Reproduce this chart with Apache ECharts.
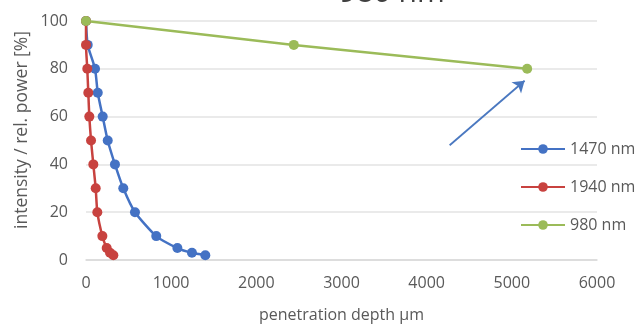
<!DOCTYPE html>
<html><head><meta charset="utf-8">
<script src="https://cdn.jsdelivr.net/npm/echarts@6/dist/echarts.min.js"></script>
<style>html,body{margin:0;padding:0;background:#fff}#c{width:643px;height:329px}</style>
</head><body><div id="c"></div>
<script>
const xTicks = [0, 1000, 2000, 3000, 4000, 5000, 6000];
const yTicks = [0, 20, 40, 60, 80, 100];
const names = ['1470 nm', '1940 nm', '980 nm'];
const depth1470 = [0, 20, 106, 138, 196, 255, 340, 438, 575, 825, 1073, 1244, 1401];
const power1470 = [100, 90, 80, 70, 60, 50, 40, 30, 20, 10, 5, 3, 2];
const depth1940 = [0, 0, 15, 27, 39, 59, 86, 114, 133, 192, 243, 282, 321];
const power1940 = [100, 90, 80, 70, 60, 50, 40, 30, 20, 10, 5, 3, 2];
const depth980 = [0, 2440, 5180];
const power980 = [100, 90, 80];
const arrowFrom = [4270, 48];
const arrowTo = [5150, 75];
const colors = ['#4472C4', '#C8423F', '#9BBB59'];

const zip = (a, b) => a.map((v, i) => [v, b[i]]);
const font = '"Open Sans", "Noto Sans", sans-serif';
const chart = echarts.init(document.getElementById('c'));
const mkSeries = (name, d, p, color) => ({
  name, type: 'line', data: zip(d, p), smooth: 0.2,
  symbol: 'circle', symbolSize: 10,
  itemStyle: { color }, lineStyle: { color, width: 2.5 }
});
const s = [
  mkSeries(names[0], depth1470, power1470, colors[0]),
  mkSeries(names[1], depth1940, power1940, colors[1]),
  mkSeries(names[2], depth980, power980, colors[2])
];
s[2].smooth = false;
s[2].markLine = {
  silent: true, symbol: ['none', 'arrow'], symbolSize: 11,
  lineStyle: { color: '#4A78C0', width: 1.8, type: 'solid' },
  label: { show: false },
  data: [[{ coord: arrowFrom }, { coord: arrowTo }]]
};
chart.setOption({
  animation: false,
  color: colors,
  textStyle: { fontFamily: font },
  grid: { left: 86, right: 46, top: 21, bottom: 69 },
  legend: {
    orient: 'vertical', left: 515, top: 136, itemWidth: 44, itemHeight: 12, itemGap: 22,
    data: names,
    textStyle: { color: '#595959', fontSize: 16, fontFamily: font }
  },
  xAxis: {
    type: 'value', min: xTicks[0], max: xTicks[xTicks.length - 1], interval: 1000,
    axisLine: { show: true, lineStyle: { color: '#d9d9d9', width: 1.5 } },
    axisTick: { show: false }, splitLine: { show: false },
    axisLabel: { color: '#595959', fontSize: 16, margin: 15, formatter: v => String(v) },
    name: 'penetration depth µm', nameLocation: 'middle', nameGap: 47,
    nameTextStyle: { color: '#595959', fontSize: 16 }
  },
  yAxis: {
    type: 'value', min: yTicks[0], max: yTicks[yTicks.length - 1], interval: 20,
    axisLine: { show: false }, axisTick: { show: false },
    splitLine: { lineStyle: { color: '#e3e3e3', width: 1.5 } },
    axisLabel: { color: '#595959', fontSize: 16, margin: 18 }
  },
  graphic: [
    { type: 'text', x: 22, y: 130, rotation: Math.PI / 2,
      style: { text: 'intensity / rel. power [%]', fill: '#595959', fontSize: 17.5, fontFamily: font, align: 'center', verticalAlign: 'middle' } },
    { type: 'text', x: 392, y: 8,
      style: { text: '980 nm', fill: '#404040', fontSize: 30, fontFamily: font, align: 'center', verticalAlign: 'bottom' } }
  ],
  series: s
});
</script></body></html>
